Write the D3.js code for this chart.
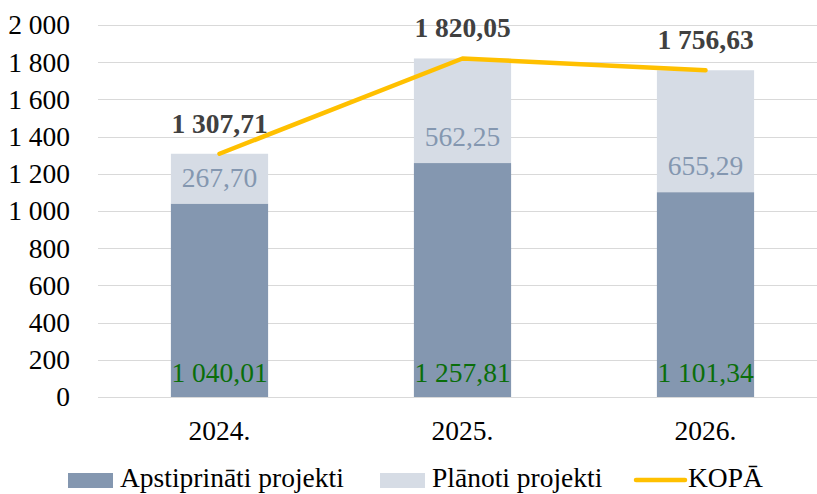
<!DOCTYPE html>
<html>
<head>
<meta charset="utf-8">
<script src="https://cdn.jsdelivr.net/npm/d3@7"></script>
<style>
  html, body { margin: 0; padding: 0; background: #fff; }
  svg { display: block; }
  svg text { font-family: "Liberation Serif", "Times New Roman", Times, serif; }
</style>
</head>
<body>
<div id="chart"></div>
<script>
// data
const years = ['2024.', '2025.', '2026.'];
const approved = [1040.01, 1257.81, 1101.34];
const planned = [267.70, 562.25, 655.29];
const totals = [1307.71, 1820.05, 1756.63];
const yTicks = [0, 200, 400, 600, 800, 1000, 1200, 1400, 1600, 1800, 2000];

const W = 817, H = 494;
const M = { top: 25, left: 98, bottom: 97, right: -10 };
const FONT = '"Liberation Serif", "Times New Roman", Times, serif';
const FS = '27.5px';

const COL_DARK = '#8497b0', COL_LIGHT = '#d6dce5', COL_LINE = '#ffc000';

const fmt = v => {
  const [i, d] = v.toFixed(2).split('.');
  return i.replace(/\B(?=(\d{3})+(?!\d))/g, ' ') + ',' + d;
};
const fmtTick = v => String(v).replace(/\B(?=(\d{3})+(?!\d))/g, ' ');

const svg = d3.select('#chart').append('svg')
  .attr('width', W).attr('height', H);

const x = d3.scaleBand()
  .domain(years)
  .range([M.left, W - M.right])
  .paddingInner(0.6)
  .paddingOuter(0.3);

const y = d3.scaleLinear()
  .domain([0, 2000])
  .range([H - M.bottom, M.top]);

// grid
svg.append('g')
  .selectAll('line')
  .data(yTicks)
  .join('line')
  .attr('x1', M.left).attr('x2', W)
  .attr('y1', d => Math.round(y(d)) + 0.5).attr('y2', d => Math.round(y(d)) + 0.5)
  .attr('stroke', '#d9d9d9')
  .attr('stroke-width', 1.2);

// y axis labels
svg.append('g')
  .attr('transform', `translate(${M.left - 25},0)`)
  .call(d3.axisLeft(y).tickValues(yTicks).tickFormat(fmtTick).tickSize(0))
  .attr('font-family', FONT)
  .call(g => g.select('.domain').remove())
  .call(g => g.selectAll('text')
    .attr('fill', '#000')
    .attr('dx', 0)
    .style('font-size', FS));

// x axis labels
svg.append('g')
  .attr('transform', `translate(0,${H - M.bottom})`)
  .call(d3.axisBottom(x).tickSize(0))
  .attr('font-family', FONT)
  .call(g => g.select('.domain').remove())
  .call(g => g.selectAll('text')
    .attr('fill', '#000')
    .attr('dy', '1.45em')
    .style('font-size', FS));

// bars
const rows = years.map((yr, i) => ({ yr, a: approved[i], p: planned[i], t: totals[i] }));

const bars = svg.append('g');
bars.selectAll('.b-a')
  .data(rows)
  .join('rect')
  .attr('class', 'b-a')
  .attr('x', d => x(d.yr))
  .attr('width', x.bandwidth())
  .attr('y', d => y(d.a))
  .attr('height', d => y(0) - y(d.a))
  .attr('fill', COL_DARK);

bars.selectAll('.b-p')
  .data(rows)
  .join('rect')
  .attr('class', 'b-p')
  .attr('x', d => x(d.yr))
  .attr('width', x.bandwidth())
  .attr('y', d => y(d.a + d.p))
  .attr('height', d => y(d.a) - y(d.a + d.p))
  .attr('fill', COL_LIGHT);

// labels inside base
const cx = d => x(d.yr) + x.bandwidth() / 2;

svg.append('g')
  .selectAll('text')
  .data(rows)
  .join('text')
  .attr('x', cx)
  .attr('y', d => y(0) - 15)
  .attr('text-anchor', 'middle')
  .attr('fill', '#0a6e0a')
  .style('font-size', FS)
  .text(d => fmt(d.a));

svg.append('g')
  .selectAll('text')
  .data(rows)
  .join('text')
  .attr('x', cx)
  .attr('y', d => y(d.a) - 17)
  .attr('text-anchor', 'middle')
  .attr('fill', COL_DARK)
  .style('font-size', FS)
  .text(d => fmt(d.p));

// total line
const line = d3.line()
  .x(cx)
  .y(d => y(d.t));

svg.append('path')
  .datum(rows)
  .attr('d', line)
  .attr('fill', 'none')
  .attr('stroke', COL_LINE)
  .attr('stroke-width', 4.5)
  .attr('stroke-linecap', 'round')
  .attr('stroke-linejoin', 'round');

svg.append('g')
  .selectAll('text')
  .data(rows)
  .join('text')
  .attr('x', cx)
  .attr('y', d => y(d.t) - 21)
  .attr('text-anchor', 'middle')
  .attr('fill', '#404040')
  .style('font-size', FS)
  .style('font-weight', '700')
  .text(d => fmt(d.t));

// legend (nudged up so descenders stay on the canvas)
const legend = svg.append('g').attr('transform', `translate(0, ${H - 14})`);
const items = [
  { name: 'Apstiprināti projekti', type: 'rect', color: COL_DARK, x: 68 },
  { name: 'Plānoti projekti', type: 'rect', color: COL_LIGHT, x: 380 },
  { name: 'KOPĀ', type: 'line', color: COL_LINE, x: 635 }
];
items.forEach(it => {
  const g = legend.append('g').attr('transform', `translate(${it.x},0)`);
  if (it.type === 'rect') {
    g.append('rect').attr('x', 0).attr('y', -7).attr('width', 45).attr('height', 15).attr('fill', it.color);
    g.append('text').attr('x', 52).attr('y', 7).style('font-size', FS).attr('fill', '#000').text(it.name);
  } else {
    g.append('line').attr('x1', 1).attr('x2', 50).attr('y1', 0).attr('y2', 0)
      .attr('stroke', it.color).attr('stroke-width', 4.5).attr('stroke-linecap', 'round');
    g.append('text').attr('x', 53).attr('y', 7).style('font-size', FS).attr('fill', '#000').text(it.name);
  }
});
</script>
</body>
</html>
